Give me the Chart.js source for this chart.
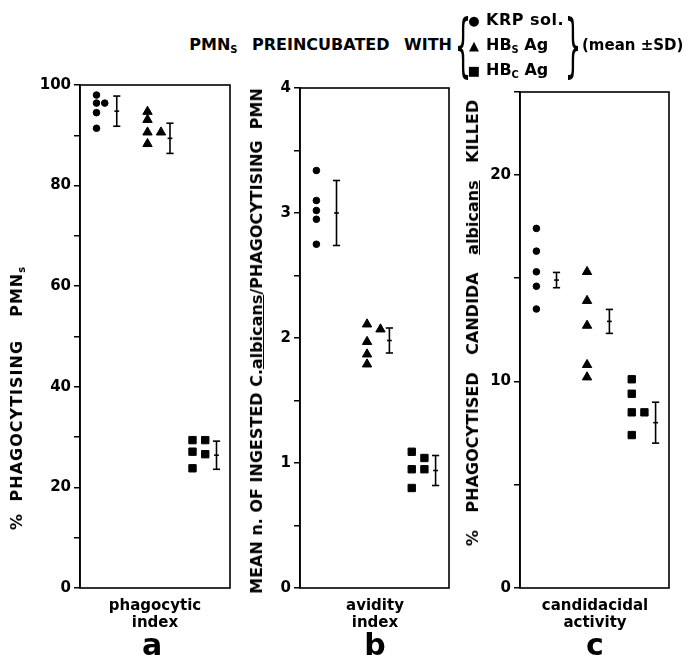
<!DOCTYPE html>
<html><head><meta charset="utf-8">
<script src="https://cdn.jsdelivr.net/npm/chart.js@4"></script>
<style>
html,body{margin:0;padding:0;background:#fff;}
body{width:689px;height:659px;position:relative;overflow:hidden;font-family:'DejaVu Sans',sans-serif;font-weight:bold;color:#000;}
.t{position:absolute;white-space:nowrap;line-height:1;}
.c{transform:translate(-50%,-50%);}
.l{transform:translateY(-50%);}
.r{transform:translate(-50%,-50%) rotate(-90deg);}
sub{font-size:0.62em;vertical-align:-0.3em;line-height:0;}
canvas{position:absolute;}
.brace{font-weight:normal;font-size:26px;}
</style></head><body>
<canvas id="ca" width="220" height="530" style="left:20px;top:70px"></canvas>
<canvas id="cb" width="220" height="530" style="left:240px;top:70px"></canvas>
<canvas id="cc" width="229" height="530" style="left:460px;top:70px"></canvas>

<div class="t l" style="right:237px;top:45px;font-size:16px;word-spacing:9px">PMN<sub>S</sub> PREINCUBATED WITH</div>
<div class="t c brace" style="left:463px;top:45px;transform:translate(-50%,-50%) scaleY(2.7)">{</div>
<div class="t c" style="left:474px;top:20px;font-size:13px">●</div>
<div class="t c" style="left:474px;top:45px;font-size:13px">▲</div>
<div class="t c" style="left:474px;top:70px;font-size:13px">■</div>
<div class="t l" style="left:486px;top:20px;font-size:16px;letter-spacing:0.5px">KRP sol.</div>
<div class="t l" style="left:486px;top:45px;font-size:16px">HB<sub>S</sub> Ag</div>
<div class="t l" style="left:486px;top:70px;font-size:16px">HB<sub>C</sub> Ag</div>
<div class="t c brace" style="left:573px;top:45px;transform:translate(-50%,-50%) scaleY(2.7)">}</div>
<div class="t l" style="left:582px;top:45px;font-size:15px">(mean ±SD)</div>

<div class="t r" style="left:17px;top:398px;font-size:16px;letter-spacing:1px;word-spacing:5px">% PHAGOCYTISING&nbsp; PMN<sub>s</sub></div>
<div class="t r" style="left:257px;top:341px;font-size:16px">MEAN n. OF INGESTED C.<u>albicans</u>/PHAGOCYTISING&nbsp; PMN</div>
<div class="t r" style="left:473px;top:323px;font-size:16px;word-spacing:12px">% PHAGOCYTISED CANDIDA <u>albicans</u> KILLED</div>

<div class="t c" style="left:155px;top:605px;font-size:15px">phagocytic</div>
<div class="t c" style="left:155px;top:622px;font-size:15px">index</div>
<div class="t c" style="left:152px;top:645px;font-size:30px">a</div>
<div class="t c" style="left:375px;top:605px;font-size:15px">avidity</div>
<div class="t c" style="left:375px;top:622px;font-size:15px">index</div>
<div class="t c" style="left:375px;top:645px;font-size:30px">b</div>
<div class="t c" style="left:595px;top:605px;font-size:15px">candidacidal</div>
<div class="t c" style="left:595px;top:622px;font-size:15px">activity</div>
<div class="t c" style="left:595px;top:645px;font-size:30px">c</div>

<script>
// groups
const groups = ['KRP sol.', 'HBs Ag', 'HBc Ag'];

// a: % phagocytising PMNs
const phagoKRP = [98.0, 96.4, 96.4, 94.5, 91.4];
const phagoHBs = [94.7, 93.1, 90.6, 90.6, 88.3];
const phagoHBc = [29.4, 29.4, 27.1, 26.6, 23.8];
const phagoMean = [94.8, 89.4, 26.4];
const phagoSD = [3.0, 3.0, 2.8];
const phagoTickLabels = [0, 20, 40, 60, 80, 100];

// b: mean n. of ingested C. albicans / phagocytising PMN
const avidKRP = [3.34, 3.10, 3.02, 2.95, 2.75];
const avidHBs = [2.11, 2.07, 1.97, 1.87, 1.79];
const avidHBc = [1.09, 1.04, 0.95, 0.95, 0.80];
const avidMean = [3.0, 1.98, 0.94];
const avidSD = [0.26, 0.10, 0.12];
const avidTickLabels = [0, 1, 2, 3, 4];

// c: % phagocytised Candida albicans killed
const killKRP = [17.4, 16.3, 15.3, 14.6, 13.5];
const killHBs = [15.3, 13.9, 12.7, 10.8, 10.2];
const killHBc = [10.1, 9.4, 8.5, 8.5, 7.4];
const killMean = [14.9, 12.9, 8.0];
const killSD = [0.37, 0.58, 0.99];
const killTickLabels = [0, 10, 20];

// layout (fractions of each panel's width)
const dotX = [0.11, 0.45, 0.75];
const sideOff = [0.055, 0.09, 0.085];
const sdOff = [0.135, 0.15, 0.16];
const styles = ['circle', 'triangle', 'rect'];
const radii = [3.3, 5.4, 5.2];

const boxPlugin = {
  id: 'box',
  beforeDatasetsDraw(chart) {
    const a = chart.chartArea, ctx = chart.ctx;
    ctx.save();
    ctx.strokeStyle = '#000';
    ctx.lineWidth = 1.6;
    ctx.strokeRect(a.left, a.top, a.right - a.left, a.bottom - a.top);
    ctx.restore();
  }
};

function makePanel(id, series, mean, sd, min, max, step, tickLabels, pad) {
  const thr = (max - min) * 0.015;
  const datasets = [];
  series.forEach((vals, g) => {
    const main = [], pts = [];
    vals.forEach(v => {
      if (main.some(m => Math.abs(m - v) < thr)) pts.push({x: dotX[g] + sideOff[g], y: v});
      else { main.push(v); pts.push({x: dotX[g], y: v}); }
    });
    datasets.push({
      label: groups[g], data: pts, pointStyle: styles[g], pointRadius: radii[g],
      backgroundColor: '#000', borderColor: '#000', pointBorderWidth: 1, showLine: false
    });
    const ex = dotX[g] + sdOff[g];
    datasets.push({
      label: groups[g] + ' mean ± SD',
      data: [{x: ex, y: mean[g] - sd[g]}, {x: ex, y: mean[g]}, {x: ex, y: mean[g] + sd[g]}],
      showLine: true, borderColor: '#000', borderWidth: 1.6,
      pointStyle: 'line', pointRadius: [3.6, 2.4, 3.6], pointBorderColor: '#000',
      pointBorderWidth: 1.6, backgroundColor: '#000'
    });
  });
  new Chart(document.getElementById(id), {
    type: 'scatter',
    data: {datasets},
    plugins: [boxPlugin],
    options: {
      responsive: false, animation: false, devicePixelRatio: 1,
      layout: {padding: {top: pad[0], right: pad[1], bottom: pad[2], left: 0}},
      plugins: {legend: {display: false}, tooltip: {enabled: false}},
      scales: {
        x: {type: 'linear', min: 0, max: 1, display: false},
        y: {
          min, max,
          afterFit(s) { s.width = 60; },
          ticks: {
            stepSize: step, autoSkip: false, color: '#000', padding: 3,
            font: {family: 'DejaVu Sans', weight: 'bold', size: 15},
            callback: v => tickLabels.some(t => Math.abs(t - v) < 1e-9) ? String(v) : ''
          },
          grid: {drawOnChartArea: false, drawTicks: true, tickLength: 6, color: '#000', lineWidth: 1.5},
          border: {display: true, color: '#000', width: 1.6}
        }
      }
    }
  });
}

makePanel('ca', [phagoKRP, phagoHBs, phagoHBc], phagoMean, phagoSD, 0, 100, 10, phagoTickLabels, [15, 10, 10]);
makePanel('cb', [avidKRP, avidHBs, avidHBc], avidMean, avidSD, 0, 4, 0.5, avidTickLabels, [18, 11, 12]);
makePanel('cc', [killKRP, killHBs, killHBc], killMean, killSD, 0, 24, 5, killTickLabels, [22, 20, 11]);
</script>
</body></html>
